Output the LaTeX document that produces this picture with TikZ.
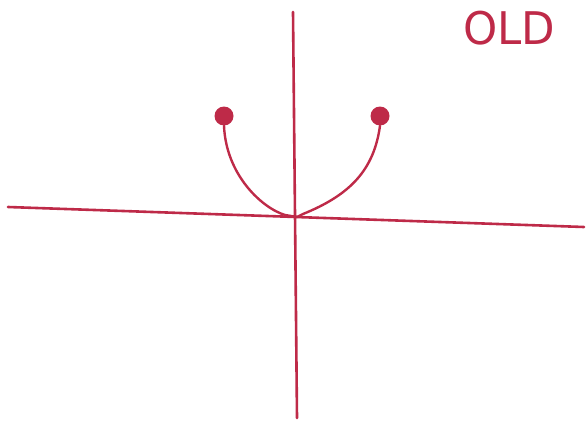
\documentclass[tikz,border=0pt]{standalone}
\usepackage{fontspec}
\setmainfont{DejaVu Sans}
\usetikzlibrary{arrows.meta}

\definecolor{pen}{RGB}{190,42,72}

\begin{document}
\begin{tikzpicture}[x=1pt, y=-1pt, line cap=round]

    % page frame (pixel units)
    \useasboundingbox (0,0) rectangle (586,423);

    % axes
    \coordinate (xl) at (8,207);
    \coordinate (xr) at (584,227);
    \coordinate (yt) at (293,12);
    \coordinate (yb) at (297,418);
    \coordinate (o) at (297,217);
    \draw[pen, line width=2.6pt] (xl) -- (xr);
    \draw[pen, line width=2.6pt] (yt) -- (yb);

    % end points of the two branches
    \node[circle, fill=pen, inner sep=0pt, minimum size=19pt] (dl) at (224,116) {};
    \node[circle, fill=pen, inner sep=0pt, minimum size=19pt] (dr) at (380,116) {};

    % branches
    \draw[pen, line width=2.4pt] (dl.south) .. controls (226,175) and (262,208) .. (285,215) -- (o);
    \draw[pen, line width=2.4pt] (o) -- (303,214) .. controls (350,195) and (374,170) .. (dr.south);

    % label
    \node[pen, font=\fontsize{30}{30}\selectfont, xscale=1.45, yscale=1.5] (old) at (509,28) {OLD};

\end{tikzpicture}
\end{document}
